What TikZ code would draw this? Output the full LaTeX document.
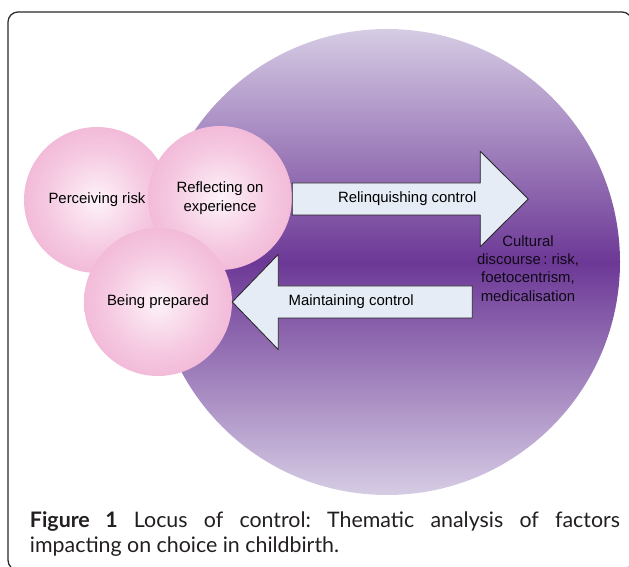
\documentclass[tikz,border=0pt]{standalone}
\usepackage{fontspec}
\setmainfont{Liberation Sans}
\newfontfamily\capfont{Lato}
\frenchspacing
\definecolor{lavtop}{RGB}{214,204,228}
\definecolor{lavmid}{RGB}{108,56,150}
\definecolor{pinkcenter}{RGB}{253,242,248}
\definecolor{pinkmid}{RGB}{245,199,224}
\definecolor{pinkedge}{RGB}{236,162,202}
\definecolor{arrowfill}{RGB}{229,236,245}
\definecolor{linegray}{RGB}{40,40,40}
\definecolor{captext}{RGB}{35,31,32}
\pgfdeclareradialshading{pinkball}{\pgfpoint{0bp}{0bp}}{color(0bp)=(pinkcenter); color(18bp)=(pinkmid); color(40bp)=(pinkedge); color(50bp)=(pinkedge)}
\begin{document}
\begin{tikzpicture}[
    bigball/.style={circle, inner sep=0pt, minimum size=11.65cm, top color=lavtop, bottom color=lavtop, middle color=lavmid},
    ball/.style={circle, inner sep=0pt, minimum size=#1, shade, shading=pinkball, align=center, font=\fontsize{10.6}{13.5}\selectfont},
    blockarrow/.style={draw=linegray, fill=arrowfill, line width=0.6pt, line join=miter},
    arrowtext/.style={align=center, font=\fontsize{10.6}{13}\selectfont, text=black}
]
    \clip (0,0) rectangle (15.725,14.175);
    \draw[linegray, line width=0.9pt, rounded corners=0.25cm] (0.2,-0.08) rectangle (15.8,13.875);
    \node[bigball] (locus) at (9.675,7.625) {};
    \node[ball=3.65cm] (risk) at (2.425,9.175) {Perceiving risk};
    \node[ball=3.6cm] (reflect) at (5.5,9.225) {Reflecting on\\experience};
    \node[ball=3.7cm] (prepared) at (3.95,6.625) {Being prepared};
    \draw[blockarrow] (reflect.east) ++(0,0.375) -- ++(4.7,0) -- ++(0,0.79) -- ++(1.2,-1.19) -- ++(-1.2,-1.19) -- ++(0,0.79) -- ++(-4.7,0) -- cycle;
    \path (reflect.east) ++(2.875,-0.025) node[arrowtext] (relinq) {Relinquishing control};
    \draw[blockarrow] (prepared.east) -- ++(1.15,1.19) -- ++(0,-0.79) -- ++(4.85,0) -- ++(0,-0.8) -- ++(-4.85,0) -- ++(0,-0.79) -- cycle;
    \path (prepared.east) ++(2.975,0) node[arrowtext] (maintain) {Maintaining control};
    \node[arrowtext, text=black!85!lavmid] (culture) at (13.2,7.4625) {Cultural\\discourse\,: risk,\\foetocentrism,\\medicalisation};
    \node[anchor=base west, align=left, text=captext, font=\capfont\fontsize{15.2}{17.8}\selectfont] (caption) at (0.625,0.35)
        {\makebox[14.75cm][s]{\textbf{Figure 1} Locus of control: Thematic analysis of factors}\\impacting on choice in childbirth.};
\end{tikzpicture}
\end{document}
